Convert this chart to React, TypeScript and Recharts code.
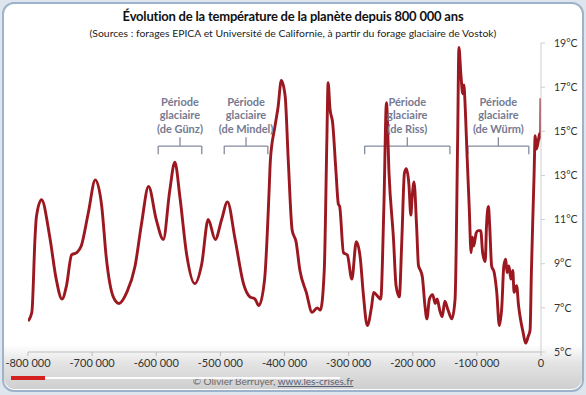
import React from 'react';
import { LineChart, Line, XAxis, YAxis, ReferenceLine, ReferenceDot } from 'recharts';

// years before present (x) and temperature in °C (y)
const years = [
  -800000, -794000, -789000, -787000, -779000, -766000, -756000, -747000, -740000, -732000,
  -724000, -717000, -706000, -695000, -685000, -678000, -667000, -658000, -646000, -633000,
  -623000, -612000, -600000, -589000, -579000, -571000, -563000, -553000, -540000, -529000,
  -519000, -508000, -498000, -489000, -477000, -464000, -454000, -446000, -440000, -431000,
  -424000, -422000, -415000, -410000, -405000, -399000, -394000, -388000, -382000, -376000,
  -366000, -357000, -349000, -344000, -338000, -334000, -332000, -329000, -325000, -320000,
  -316000, -314000, -308000, -302000, -295000, -288000, -282000, -277000, -271000, -264000,
  -261000, -254000, -250000, -245000, -241000, -237000, -230000, -226000, -221000, -217000,
  -213000, -210000, -206000, -203000, -201000, -198000, -194000, -191000, -188000, -185000,
  -181000, -178000, -174000, -169000, -165000, -162000, -158000, -154000, -150000, -145000,
  -139000, -134000, -130000, -128000, -125000, -122000, -120000, -119000, -115000, -112000,
  -109000, -107000, -105000, -101000, -98000, -94000, -91000, -87000, -85000, -82000,
  -80000, -77000, -73000, -69000, -65000, -61000, -58000, -55000, -53000, -50000,
  -47000, -44000, -42000, -38000, -35000, -32000, -28000, -24000, -20000, -17000,
  -15000, -13000, -11000, -9000, -7000, -4000, -2000, -500, 0
];

const temps = [
  6.4, 6.8, 10.2, 11.1, 11.9, 10.2, 8.3, 7.4, 8.0, 9.4,
  9.5, 9.8, 11.3, 12.8, 11.6, 9.3, 7.5, 7.2, 7.7, 8.9,
  10.8, 12.5, 11.0, 10.1, 12.3, 13.6, 12.0, 9.5, 8.1, 9.0,
  11.0, 10.1, 11.0, 11.8, 10.1, 8.1, 7.5, 7.4, 7.1, 8.3,
  12.3, 13.7, 15.2, 16.1, 17.3, 16.6, 13.6, 10.5, 10.0, 8.7,
  7.7, 6.8, 7.0, 6.9, 8.7, 14.5, 17.2, 16.0, 15.4, 13.3,
  11.7, 11.6, 9.5, 9.4, 8.3, 10.0, 9.3, 7.6, 6.2, 7.1,
  7.7, 7.5, 7.4, 11.6, 16.3, 13.1, 10.1, 8.0, 7.5, 10.1,
  13.1, 13.3, 12.6, 11.2, 12.0, 12.7, 10.7, 8.9, 8.7, 8.4,
  7.1, 6.5, 7.4, 7.6, 7.2, 7.4, 6.9, 6.6, 7.3, 6.9,
  6.5, 7.4, 14.6, 18.8, 17.6, 16.7, 17.1, 16.6, 13.7, 11.6,
  9.5, 10.2, 9.8, 10.4, 10.5, 10.5, 9.5, 9.1, 10.7, 11.6,
  10.7, 8.9, 8.6, 7.7, 6.2, 7.1, 8.9, 9.2, 8.6, 8.9,
  8.3, 8.7, 7.7, 8.0, 7.1, 6.5, 5.9, 5.4, 5.7, 6.0,
  8.6, 10.8, 12.8, 14.8, 14.2, 14.6, 14.9, 14.7, 16.5
];

const xTicks = [-800000, -700000, -600000, -500000, -400000, -300000, -200000, -100000, 0];
const yTicks = [5, 7, 9, 11, 13, 15, 17, 19];

// glacial periods: label, start and end of the brace (years)
const periodNames = ['(de Günz)', '(de Mindel)', '(de Riss)', '(de Würm)'];
const periodStarts = [-597000, -494000, -275000, -114000];
const periodEnds = [-529000, -426000, -142000, -19000];

const data = years.map((year, i) => ({ year, temp: temps[i] }));

const formatYear = (v: number) => {
  const s = String(Math.abs(v)).replace(/\B(?=(\d{3})+(?!\d))/g, ' ');
  return v < 0 ? `-${s}` : s;
};

const FONT = 'Lato, "Open Sans", sans-serif';
const BRACE = '#868a9e';
const ANNOT = '#767a92';

const braceEnd = 13.96;
const braceBar = 14.33;
const braceTip = 14.73;

const PeriodLabel = (name: string) => (props: any) => {
  const vb = props.viewBox || {};
  const cx = (vb.x || 0) + (vb.width || 0) / 2;
  const cy = (vb.y || 0) + (vb.height || 0) / 2;
  return (
    <g fontFamily={FONT} fontSize={11} fontWeight={700} fill={ANNOT} textAnchor="middle">
      <text x={cx} y={cy} dominantBaseline="central">Période</text>
      <text x={cx} y={cy + 13.5} dominantBaseline="central">glaciaire</text>
      <text x={cx} y={cy + 27} dominantBaseline="central">{name}</text>
    </g>
  );
};

export default function App() {
  return (
    <div style={{ position: 'absolute', left: 0, top: 0, width: 586, height: 395, background: '#dfe5ec', overflow: 'hidden', fontFamily: FONT }}>
      <div style={{ position: 'absolute', left: 2, top: 2, width: 578, height: 386, border: '2px solid #9db3cb', borderRadius: 12, background: '#fff' }} />
      <div style={{ position: 'absolute', left: 4, top: 345, width: 578, height: 44, borderRadius: '0 0 11px 11px', background: 'linear-gradient(to bottom, rgba(255,255,255,0), #e4e4e4 40%, #cfcfcf)' }} />
      <div style={{ position: 'absolute', left: 0, top: 8, width: 586, textAlign: 'center', fontSize: 13, letterSpacing: -0.2, fontWeight: 700, color: '#111' }}>
        Évolution de la température de la planète depuis 800 000 ans
      </div>
      <div style={{ position: 'absolute', left: 0, top: 27, width: 586, textAlign: 'center', fontSize: 10.4, color: '#222' }}>
        (Sources : forages EPICA et Université de Californie, à partir du forage glaciaire de Vostok)
      </div>
      <div style={{ position: 'absolute', left: 0, top: 0 }}>
        <LineChart width={586} height={395} data={data} margin={{ top: 43, right: 5, bottom: 18, left: 28 }}>
          <XAxis
            dataKey="year"
            type="number"
            domain={[-800000, 0]}
            ticks={xTicks}
            tickFormatter={formatYear}
            height={25}
            stroke="#bdbdbd"
            tickSize={4}
            tickMargin={3}
            tick={{ fill: '#333', fontSize: 11, fontFamily: FONT }}
            allowDataOverflow
          />
          <YAxis
            orientation="right"
            type="number"
            domain={[5, 19]}
            ticks={yTicks}
            tickFormatter={(v: number) => `${v}°C`}
            width={40}
            stroke="#cfcfcf"
            tickSize={4}
            tickMargin={9}
            tick={{ fill: '#333', fontSize: 10.5, fontFamily: FONT }}
            allowDataOverflow
          />
          {periodNames.map((name, i) => {
            const s = periodStarts[i];
            const e = periodEnds[i];
            const m = (s + e) / 2;
            return (
              <React.Fragment key={name}>
                <ReferenceLine segment={[{ x: s, y: braceEnd }, { x: s, y: braceBar }]} stroke={BRACE} strokeWidth={1.3} ifOverflow="visible" />
                <ReferenceLine segment={[{ x: s, y: braceBar }, { x: e, y: braceBar }]} stroke={BRACE} strokeWidth={1.3} ifOverflow="visible" />
                <ReferenceLine segment={[{ x: e, y: braceBar }, { x: e, y: braceEnd }]} stroke={BRACE} strokeWidth={1.3} ifOverflow="visible" />
                <ReferenceLine segment={[{ x: m, y: braceBar }, { x: m, y: braceTip }]} stroke={BRACE} strokeWidth={1.3} ifOverflow="visible" />
                <ReferenceDot x={m} y={16.37} r={0} stroke="none" fill="none" ifOverflow="visible" label={PeriodLabel(name)} />
              </React.Fragment>
            );
          })}
          <Line
            type="monotone"
            dataKey="temp"
            stroke="#9c1820"
            strokeWidth={2.9}
            dot={false}
            activeDot={false}
            isAnimationActive={false}
          />
        </LineChart>
      </div>
      <div style={{ position: 'absolute', left: 0, top: 375, width: 586, textAlign: 'center', fontSize: 10, color: '#6a6a6a' }}>
        <span style={{ marginLeft: -40 }}>© Olivier Berruyer, <span style={{ textDecoration: 'underline', color: '#55607a' }}>www.les-crises.fr</span></span>
      </div>
      <div style={{ position: 'absolute', left: 44, top: 377, width: 296, height: 2, background: 'rgba(255,255,255,0.9)' }} />
      <div style={{ position: 'absolute', left: 11, top: 376, width: 34, height: 4, background: '#d4201f' }} />
    </div>
  );
}
